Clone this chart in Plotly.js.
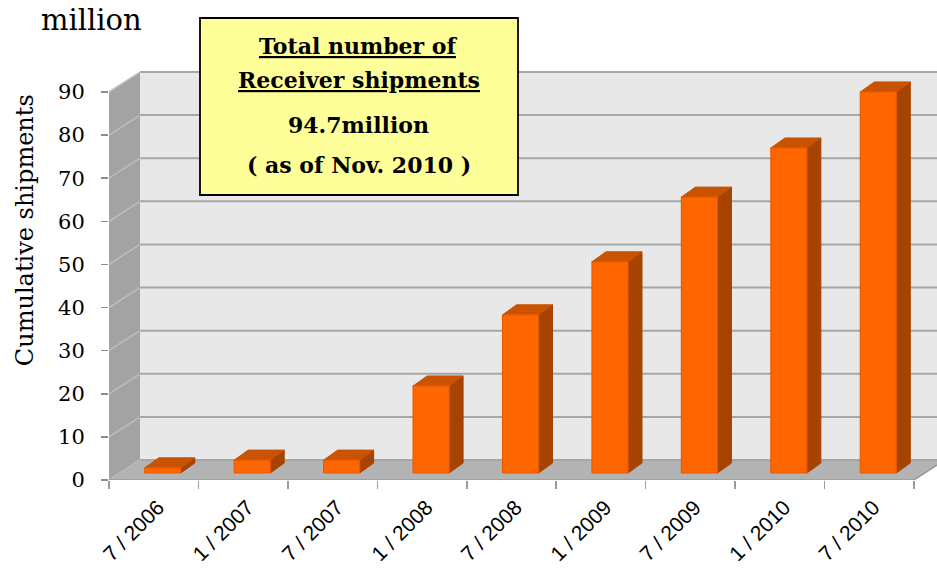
<!DOCTYPE html>
<html>
<head>
<meta charset="utf-8">
<script src="https://cdn.plot.ly/plotly-3.0.1.min.js"></script>
<style>
html,body{margin:0;padding:0;background:#fff;}
#chart{width:937px;height:583px;}
</style>
</head>
<body>
<div id="chart"></div>
<script>
// ---- data ----
const categories = ['7/2006','1/2007','7/2007','1/2008','7/2008','1/2009','7/2009','1/2010','7/2010'];
const shipments = [1.2, 3.0, 3.0, 20.2, 36.7, 49.0, 64.0, 75.4, 88.4];   // million, cumulative
const yTickVals = [0, 10, 20, 30, 40, 50, 60, 70, 80, 90];
const unitLabel = 'million';
const yTitle = 'Cumulative shipments';
const boxLines = ['Total number of', 'Receiver shipments', '94.7million', '( as of Nov. 2010 )'];

// ---- pseudo-3D geometry (style constants) ----
const N = categories.length;
const YMAX = 90;
const wallDx = 0.3466, wallDy = 4.64;     // depth of the wall box
const barOff = 0.40, barW = 0.4025, barBase = 1.62; // bar front face placement
const barDx = 0.1565, barDy = 2.32;      // bar depth

const traces = [];

// back wall
traces.push({x:[wallDx, 9.6, 9.6, wallDx, wallDx], y:[wallDy, wallDy, YMAX+wallDy, YMAX+wallDy, wallDy],
  mode:'lines', fill:'toself', fillcolor:'#e8e8e8', line:{width:0}, hoverinfo:'skip', showlegend:false});
// left wall
traces.push({x:[0, wallDx, wallDx, 0, 0], y:[0, wallDy, YMAX+wallDy, YMAX, 0],
  mode:'lines', fill:'toself', fillcolor:'#a3a3a3', line:{width:0}, hoverinfo:'skip', showlegend:false});

// gridlines on back wall and left wall
const gx = [], gy = [], lx = [], ly = [];
yTickVals.forEach(v => {
  gx.push(wallDx, 9.6, null); gy.push(v + wallDy, v + wallDy, null);
  lx.push(0, wallDx, null); ly.push(v, v + wallDy, null);
});
traces.push({x:gx, y:gy, mode:'lines', line:{color:'#a6a6a6', width:2}, hoverinfo:'skip', showlegend:false});
traces.push({x:lx, y:ly, mode:'lines', line:{color:'#bdbdbd', width:1.5}, hoverinfo:'skip', showlegend:false});
// floor
traces.push({x:[0, N, N+wallDx, wallDx, 0], y:[0, 0, wallDy, wallDy, 0],
  mode:'lines', fill:'toself', fillcolor:'#b3b3b3', line:{width:0}, hoverinfo:'skip', showlegend:false});
// floor edges
traces.push({x:[0, N, N+wallDx], y:[0, 0, wallDy], mode:'lines', line:{color:'#9a9a9a', width:1.5}, hoverinfo:'skip', showlegend:false});
traces.push({x:[wallDx, 9.6], y:[wallDy, wallDy], mode:'lines', line:{color:'#a6a6a6', width:2}, hoverinfo:'skip', showlegend:false});

// bars
const fx=[], fy=[], tx=[], ty=[], sx=[], sy=[];
shipments.forEach((v, i) => {
  const x0 = i + barOff, x1 = x0 + barW, yb = barBase, yt = barBase + v;
  fx.push(x0, x1, x1, x0, x0, null); fy.push(yb, yb, yt, yt, yb, null);
  tx.push(x0, x1, x1+barDx, x0+barDx, x0, null); ty.push(yt, yt, yt+barDy, yt+barDy, yt, null);
  sx.push(x1, x1+barDx, x1+barDx, x1, x1, null); sy.push(yb, yb+barDy, yt+barDy, yt, yb, null);
});
traces.push({x:sx, y:sy, mode:'lines', fill:'toself', fillcolor:'#a64300', line:{color:'#a64300', width:1}, hoverinfo:'skip', showlegend:false});
traces.push({x:tx, y:ty, mode:'lines', fill:'toself', fillcolor:'#c95300', line:{color:'#c95300', width:1}, hoverinfo:'skip', showlegend:false});
traces.push({x:fx, y:fy, mode:'lines', fill:'toself', fillcolor:'#ff6600', line:{color:'#e85a00', width:1.2},
  hoverinfo:'skip', showlegend:false});
// invisible trace for label axis
traces.push({x:[0.5], y:[0], xaxis:'x2', mode:'markers', marker:{opacity:0}, hoverinfo:'skip', showlegend:false});

const plotL = 109, plotR = 0, plotT = 60, plotB = 103;
const xRange = [0, 828/89.44];
const yRange = [0, 420/4.311];

const serif = 'DejaVu Serif, serif';
const annotations = [
  {text: unitLabel, xref:'paper', yref:'paper', x:-0.0217, y:1.0952, xanchor:'center', yanchor:'middle', showarrow:false,
   font:{family:serif, size:29, color:'#000'}},
  {text: yTitle, xref:'paper', yref:'paper', x:-0.1014, y:0.595, xanchor:'center', yanchor:'middle', showarrow:false, textangle:-90,
   font:{family:serif, size:24, color:'#000'}},
];
const boxY = [1.0333, 0.9524, 0.8452, 0.75];
boxLines.forEach((t, k) => {
  const txt = k < 2 ? '<span style="text-decoration:underline">' + t + '</span>' : t;
  annotations.push({text: txt, xref:'paper', yref:'paper', x:0.3019, y:boxY[k], xanchor:'center', yanchor:'middle', showarrow:false,
    font:{family:serif, size:22, color:'#000', weight:'bold'}});
});

const layout = {
  width:937, height:583,
  margin:{l:plotL, r:plotR, t:plotT, b:plotB, pad:0},
  paper_bgcolor:'#fff', plot_bgcolor:'rgba(0,0,0,0)',
  showlegend:false,
  xaxis:{range:xRange, tickmode:'array', tickvals:[...Array(N+1).keys()], ticktext:Array(N+1).fill(''),
    ticks:'outside', ticklen:8, tickwidth:1.5, tickcolor:'#9a9a9a', showgrid:false, zeroline:false, showline:false, fixedrange:true},
  xaxis2:{range:xRange, overlaying:'x', side:'bottom', tickmode:'array', tickvals:categories.map((c,i)=>i+0.55),
    ticktext:categories.map(c => c.replace('/', ' / ')), tickangle:-45, ticks:'', ticklabelstandoff:10,
    tickfont:{family:'Liberation Sans, Arial, sans-serif', size:21, color:'#000'},
    showgrid:false, zeroline:false, showline:false, fixedrange:true},
  yaxis:{range:yRange, tickmode:'array', tickvals:yTickVals, ticks:'outside', ticklen:7, tickwidth:1.5, tickcolor:'#8c8c8c',
    ticklabelstandoff:12, tickfont:{family:serif, size:21, color:'#000'},
    showgrid:false, zeroline:false, showline:false, fixedrange:true},
  shapes:[
    {type:'rect', xref:'paper', yref:'paper', x0:(200-plotL)/828, x1:(518-plotL)/828, y0:(480-195)/420, y1:(480-18)/420,
     fillcolor:'#ffff99', line:{color:'#000', width:1.8}, layer:'above'}
  ],
  annotations: annotations
};

Plotly.newPlot('chart', traces, layout, {displayModeBar:false, staticPlot:true});
</script>
</body>
</html>
